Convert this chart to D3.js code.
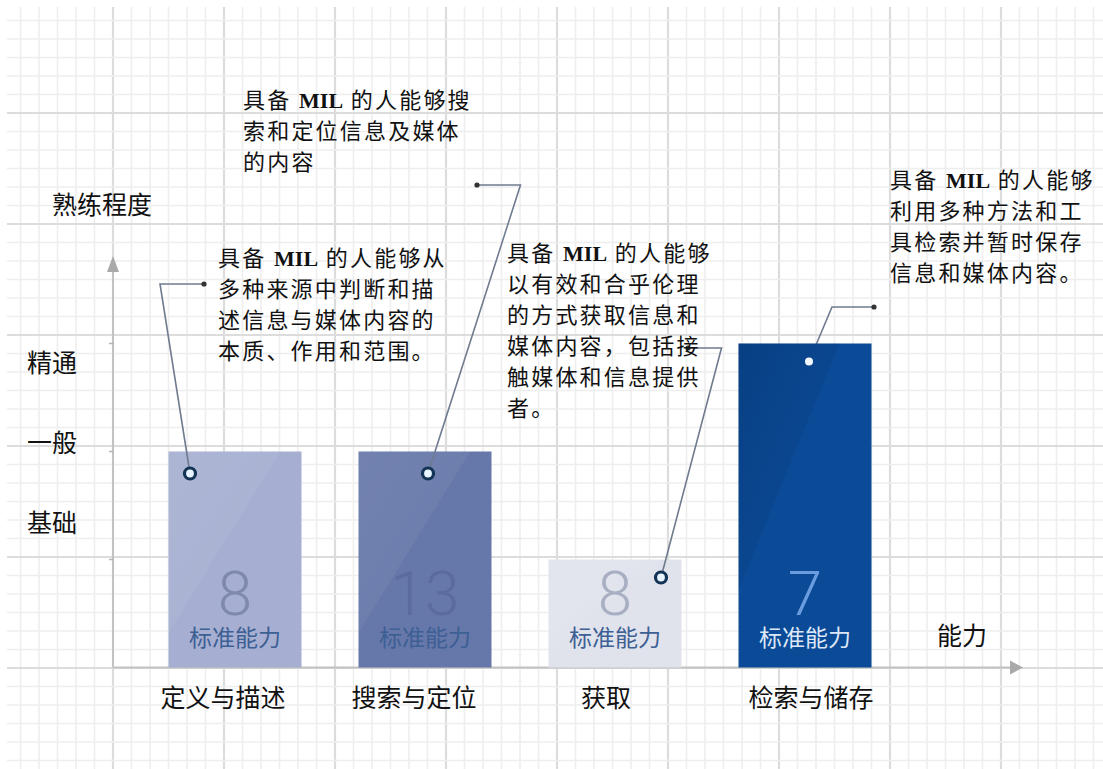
<!DOCTYPE html>
<html>
<head>
<meta charset="utf-8">
<script src="https://cdn.jsdelivr.net/npm/d3@7"></script>
<style>
  body { margin: 0; background: #fff; }
  svg { display: block; }
  text { white-space: pre; }
</style>
</head>
<body>
<div id="chart"></div>
<script>
// Data
const categories = ["定义与描述", "搜索与定位", "获取", "检索与储存"];
const levels = [2, 2, 1, 3];              // 1 = 基础, 2 = 一般, 3 = 精通
const standardCounts = [8, 13, 8, 7];     // 标准能力 per category
const levelNames = ["基础", "一般", "精通"];
const levelLabelAt = [1.34, 2.08, 2.82];
const levelTicks = [1, 2, 3];
const callouts = [
    ["具备 MIL 的人能够从", "多种来源中判断和描", "述信息与媒体内容的", "本质、作用和范围。"],
    ["具备 MIL 的人能够搜", "索和定位信息及媒体", "的内容"],
    ["具备 MIL 的人能够", "以有效和合乎伦理", "的方式获取信息和", "媒体内容，包括接", "触媒体和信息提供", "者。"],
    ["具备 MIL 的人能够", "利用多种方法和工", "具检索并暂时保存", "信息和媒体内容。"]
];

// Style / layout
const W = 1103, H = 769;
const barColors = ["#a6afd1", "#6677a9", "#e0e3ec", "#0b4a96"];
const numColors = ["#7f89ad", "#5b6b9e", "#a9afc2", "#6a9de0"];
const tagColors = ["#3d5f94", "#3d5f94", "#3d5f94", "#dce8f7"];
const labelDx = [-12, -11, -9, 6];
const serif = "'Liberation Serif', 'Noto Sans CJK SC', serif";
const sans = "'Noto Sans CJK SC', sans-serif";

// callout layout: text origin, ring offset from bar's top-left, elbow, dot end
const calloutLayout = [
    { tx: 218, ty: 266, ring: [21.5, 22], elbow: [160, 284], dot: [204, 284] },
    { tx: 243, ty: 108, ring: [69.5, 22], elbow: [520.5, 185], dot: [477, 185] },
    { tx: 507, ty: 261, ring: [112.5, 18], elbow: [721.5, 348], dot: [688, 348] },
    { tx: 890, ty: 188, ring: [70.5, 18], elbow: [832, 307], dot: [874, 307] }
];

const x = d3.scaleBand().domain(categories).range([140, 900]).paddingInner(0.3).paddingOuter(0.15);
const y = d3.scaleLinear().domain([0, 3]).range([667.5, 343.5]);

const svg = d3.select("#chart").append("svg")
    .attr("width", W)
    .attr("height", H);

// Graph paper
const grid = svg.append("g");
const step = 18.5;
for (let i = 0; 2 + i * step < W; i++) {
    const gx = 2 + i * step;
    if (gx < 7) continue;
    grid.append("line")
        .attr("x1", gx).attr("x2", gx).attr("y1", 7).attr("y2", H)
        .attr("stroke", i % 6 === 0 ? "#dcdcdc" : "#eeeeee")
        .attr("stroke-width", i % 6 === 0 ? 2.2 : 1.6);
}
for (let i = 0; 2 + i * step < H; i++) {
    const gy = 2 + i * step;
    if (gy < 7) continue;
    grid.append("line")
        .attr("y1", gy).attr("y2", gy).attr("x1", 7).attr("x2", W)
        .attr("stroke", i % 6 === 0 ? "#dcdcdc" : "#eeeeee")
        .attr("stroke-width", i % 6 === 0 ? 2.2 : 1.6);
}

// Axes
const axisColor = "#c2c2c2";
const x0 = 113;
svg.append("line")
    .attr("x1", x0).attr("x2", x0).attr("y1", y(0)).attr("y2", 268)
    .attr("stroke", axisColor).attr("stroke-width", 2);
svg.append("path")
    .attr("d", `M${x0 - 6},${272} L${x0},${256} L${x0 + 6},${272} Z`)
    .attr("fill", "#a9a9a9");
svg.append("line")
    .attr("x1", x0).attr("x2", 1012).attr("y1", y(0)).attr("y2", y(0))
    .attr("stroke", axisColor).attr("stroke-width", 2);
svg.append("path")
    .attr("d", `M1010,${y(0) - 7} L1023,${y(0)} L1010,${y(0) + 7} Z`)
    .attr("fill", "#a9a9a9");

svg.append("g").selectAll("line")
    .data(levelTicks)
    .join("line")
    .attr("x1", x0 - 4).attr("x2", x0 + 1)
    .attr("y1", d => y(d)).attr("y2", d => y(d))
    .attr("stroke", "#b5b5b5").attr("stroke-width", 1.5);

// Axis titles and level names
svg.append("text")
    .attr("x", 52).attr("y", 214)
    .attr("font-family", serif).attr("font-size", 25).attr("fill", "#111")
    .text("熟练程度");
svg.append("text")
    .attr("x", 937).attr("y", 645)
    .attr("font-family", serif).attr("font-size", 25).attr("fill", "#111")
    .text("能力");
svg.append("g").selectAll("text")
    .data(levelNames)
    .join("text")
    .attr("x", 27)
    .attr("y", (d, i) => y(levelLabelAt[i]) + 9)
    .attr("font-family", serif).attr("font-size", 25).attr("fill", "#111")
    .text(d => d);

// Category labels
svg.append("g").selectAll("text")
    .data(categories)
    .join("text")
    .attr("x", (d, i) => x(d) + x.bandwidth() / 2 + labelDx[i])
    .attr("y", 707)
    .attr("text-anchor", "middle")
    .attr("font-family", serif).attr("font-size", 25).attr("fill", "#111")
    .text(d => d);

// Gradients for the glossy tag look
const defs = svg.append("defs");
const shine = defs.append("linearGradient")
    .attr("id", "shine")
    .attr("x1", "0").attr("y1", "0").attr("x2", "1").attr("y2", "1");
shine.append("stop").attr("offset", "0%").attr("stop-color", "#fff").attr("stop-opacity", 0.08);
shine.append("stop").attr("offset", "42%").attr("stop-color", "#fff").attr("stop-opacity", 0.05);
shine.append("stop").attr("offset", "42%").attr("stop-color", "#fff").attr("stop-opacity", 0);
shine.append("stop").attr("offset", "100%").attr("stop-color", "#fff").attr("stop-opacity", 0);
const shade = defs.append("linearGradient")
    .attr("id", "shade")
    .attr("x1", "0").attr("y1", "0").attr("x2", "1").attr("y2", "1");
shade.append("stop").attr("offset", "0%").attr("stop-color", "#001a40").attr("stop-opacity", 0.22);
shade.append("stop").attr("offset", "38%").attr("stop-color", "#001a40").attr("stop-opacity", 0.08);
shade.append("stop").attr("offset", "38%").attr("stop-color", "#000").attr("stop-opacity", 0);
shade.append("stop").attr("offset", "100%").attr("stop-color", "#000").attr("stop-opacity", 0);

const lineLayer = svg.append("g");
const barLayer = svg.append("g");
const frontLines = svg.append("g");

// Bars
const bars = barLayer.selectAll("g")
    .data(categories)
    .join("g");

bars.append("rect")
    .attr("x", d => x(d))
    .attr("y", (d, i) => y(levels[i]))
    .attr("width", x.bandwidth())
    .attr("height", (d, i) => y(0) - y(levels[i]))
    .attr("fill", (d, i) => barColors[i]);

bars.append("rect")
    .attr("x", d => x(d))
    .attr("y", (d, i) => y(levels[i]))
    .attr("width", x.bandwidth())
    .attr("height", (d, i) => y(0) - y(levels[i]))
    .attr("fill", (d, i) => i === 3 ? "url(#shade)" : "url(#shine)");

bars.append("text")
    .attr("x", d => x(d) + x.bandwidth() / 2)
    .attr("y", 615)
    .attr("text-anchor", "middle")
    .attr("font-family", "Roboto, Lato, sans-serif")
    .attr("font-weight", 300)
    .attr("font-size", 62)
    .attr("fill", (d, i) => numColors[i])
    .text((d, i) => standardCounts[i]);

bars.append("text")
    .attr("x", d => x(d) + x.bandwidth() / 2)
    .attr("y", 646)
    .attr("text-anchor", "middle")
    .attr("font-family", sans)
    .attr("font-size", 23)
    .attr("fill", (d, i) => tagColors[i])
    .text("标准能力");

// Callouts
callouts.forEach((lines, i) => {
    const c = calloutLayout[i];
    const cat = categories[i];
    const rx = x(cat) + c.ring[0];
    const ry = y(levels[i]) + c.ring[1];
    const layer = i === 3 ? lineLayer : frontLines;

    layer.append("path")
        .attr("d", `M${rx},${ry} L${c.elbow[0]},${c.elbow[1]} L${c.dot[0]},${c.dot[1]}`)
        .attr("fill", "none")
        .attr("stroke", "#6f7b8f")
        .attr("stroke-width", 1.6);
    frontLines.append("circle")
        .attr("cx", c.dot[0]).attr("cy", c.dot[1]).attr("r", 2.6)
        .attr("fill", "#333");

    if (i === 3) {
        frontLines.append("circle")
            .attr("cx", rx).attr("cy", ry).attr("r", 4)
            .attr("fill", "#f4f8ff");
    } else {
        frontLines.append("circle")
            .attr("cx", rx).attr("cy", ry).attr("r", 5.5)
            .attr("fill", "#e8f4ff")
            .attr("stroke", "#143456")
            .attr("stroke-width", 3.2);
    }

    const txt = svg.append("text")
        .attr("font-family", serif)
        .attr("font-size", 22)
        .attr("fill", "#111");

    lines.forEach((line, k) => {
        line.split(/(MIL)/).filter(s => s.length).forEach((part, p) => {
            const t = txt.append("tspan").text(part);
            if (p === 0) t.attr("x", c.tx).attr("y", c.ty + k * 31);
            if (part === "MIL") {
                t.attr("font-weight", "bold").attr("letter-spacing", 0);
            } else {
                t.attr("letter-spacing", 2.2);
            }
        });
    });
});
</script>
</body>
</html>
